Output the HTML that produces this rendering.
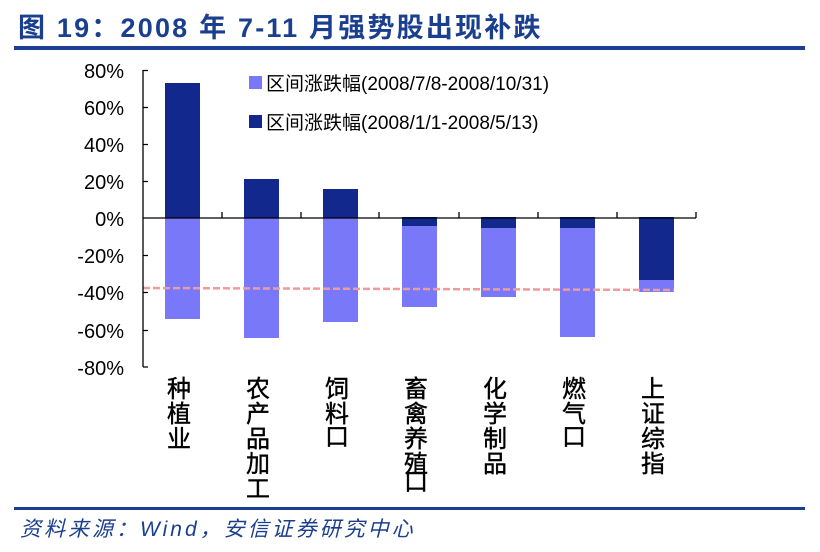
<!DOCTYPE html>
<html><head><meta charset="utf-8"><style>
body{margin:0;width:820px;height:552px;background:#fff;position:relative;overflow:hidden;font-family:"Liberation Sans","Noto Sans CJK SC",sans-serif}
.t{position:absolute;left:18px;top:6px;font-size:27px;font-weight:bold;color:#1b3f8f;letter-spacing:2.2px;white-space:nowrap}
.l{position:absolute;left:14px;width:791px;background:#1b3f8f}
.f{position:absolute;left:20px;top:513px;font-size:21px;font-style:italic;color:#1b3f8f;letter-spacing:3px;white-space:nowrap}
</style></head><body>
<div class="t">图 19：2008 年 7-11 月强势股出现补跌</div>
<div class="l" style="top:46px;height:4px"></div>
<div class="l" style="top:507px;height:3px"></div>
<div class="f">资料来源：Wind，安信证券研究中心</div>
<svg width="820" height="552" style="position:absolute;left:0;top:0" font-family="Liberation Sans, Noto Sans CJK SC, sans-serif">
<g font-size="20" fill="#000" text-anchor="end">
<text x="124" y="78">80%</text><text x="124" y="115">60%</text><text x="124" y="152">40%</text><text x="124" y="189">20%</text><text x="124" y="226">0%</text><text x="124" y="263">-20%</text><text x="124" y="300">-40%</text><text x="124" y="338">-60%</text><text x="124" y="375">-80%</text>
</g>
<g fill="#7878f8">
<rect x="165" y="218" width="35" height="101"/>
<rect x="244" y="218" width="35" height="120"/>
<rect x="323" y="218" width="35" height="104"/>
<rect x="402" y="218" width="35" height="89"/>
<rect x="481" y="218" width="35" height="79"/>
<rect x="560" y="218" width="35" height="119"/>
<rect x="639" y="218" width="35" height="74"/>
</g>
<g fill="#13288c">
<rect x="165" y="83" width="35" height="135"/>
<rect x="244" y="179" width="35" height="39"/>
<rect x="323" y="189" width="35" height="29"/>
<rect x="402" y="217" width="35" height="9"/>
<rect x="481" y="217" width="35" height="11"/>
<rect x="560" y="217" width="35" height="11"/>
<rect x="639" y="217" width="35" height="63"/>
</g>
<line x1="143" y1="288" x2="674" y2="290" stroke="#f09a9a" stroke-width="2.5" stroke-dasharray="7,3"/>
<g stroke="#000" stroke-width="1.3">
<line x1="143" y1="70" x2="143" y2="367"/>
<line x1="143" y1="218" x2="696" y2="218"/>
<path d="M143 70.5h5M143 107.5h5M143 144.5h5M143 181.5h5M143 255.5h5M143 292.5h5M143 330.5h5M143 367h5"/>
<path d="M222 212v6M301 212v6M379 212v6M459 212v6M538 212v6M617 212v6M696 212v6"/>
</g>
<rect x="249" y="76" width="13" height="13" fill="#7878f8"/>
<rect x="249" y="115" width="13" height="13" fill="#13288c"/>
<g font-size="19" fill="#000">
<text x="266" y="90">区间涨跌幅(2008/7/8-2008/10/31)</text>
<text x="266" y="129">区间涨跌幅(2008/1/1-2008/5/13)</text>
</g>
<g font-size="24" fill="#000" text-anchor="middle" stroke="#000" stroke-width="0.4">
<text x="179" y="397">种</text><text x="179" y="422">植</text><text x="179" y="447">业</text>
<text x="258" y="397">农</text><text x="258" y="422">产</text><text x="258" y="447">品</text><text x="258" y="472">加</text><text x="258" y="497">工</text>
<text x="337" y="397">饲</text><text x="337" y="422">料</text><text x="337" y="445">口</text>
<text x="416" y="397">畜</text><text x="416" y="422">禽</text><text x="416" y="447">养</text><text x="416" y="472">殖</text><text x="416" y="490">口</text>
<text x="495" y="397">化</text><text x="495" y="422">学</text><text x="495" y="447">制</text><text x="495" y="472">品</text>
<text x="574" y="397">燃</text><text x="574" y="422">气</text><text x="574" y="445">口</text>
<text x="653" y="397">上</text><text x="653" y="422">证</text><text x="653" y="447">综</text><text x="653" y="472">指</text>
</g>
</svg>
</body></html>
